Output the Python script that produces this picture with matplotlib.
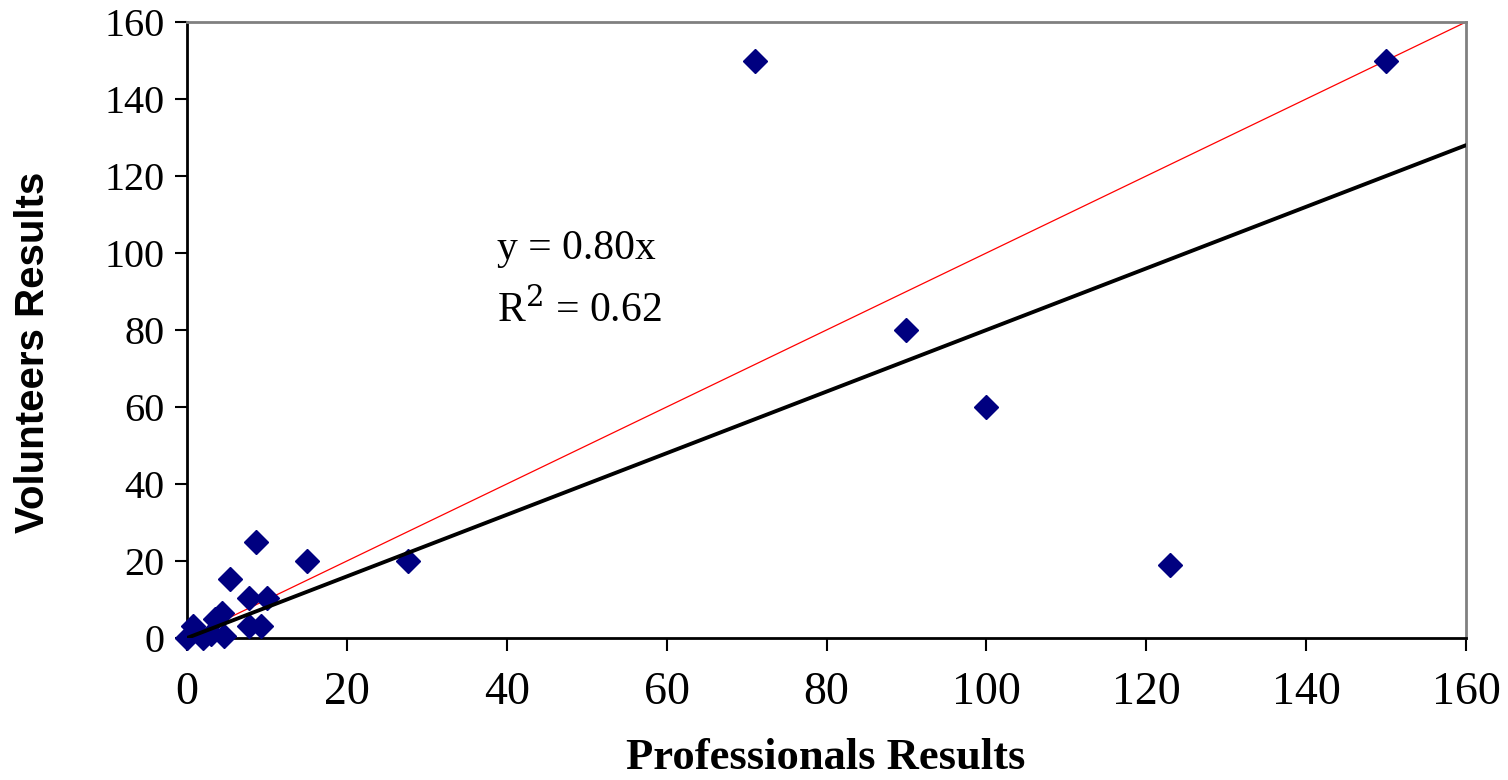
import matplotlib
matplotlib.use("Agg")
import matplotlib.pyplot as plt
import numpy as np

# Data
professionals = [0, 0.8, 2, 3, 3.5, 4.4, 4.6, 5.4, 7.7, 9.3, 7.8, 10, 8.6, 15, 27.6, 71, 90, 100, 123, 150]
volunteers    = [0, 3,   0, 1, 5,   6.4, 0.5, 15.2, 3,  3,   10.3, 10.3, 25, 20, 20, 150, 80, 60, 19, 150]
slope = 0.80
r2 = 0.62
x_ticks = [0, 20, 40, 60, 80, 100, 120, 140, 160]
y_ticks = [0, 20, 40, 60, 80, 100, 120, 140, 160]

W, H = 1508, 780
fig = plt.figure(figsize=(W / 100, H / 100), dpi=100)
ax = fig.add_axes([187 / W, 1 - 638 / H, (1466 - 187) / W, (638 - 22) / H])

serif = "Liberation Serif"
sans = "Liberation Sans"

# identity (red) and fitted trendline (black)
line_x = np.array([0, 160])
ax.plot(line_x, line_x, color="#ff0000", lw=0.9, zorder=2)
ax.plot(professionals, volunteers, linestyle="none", marker="D", ms=12,
        mfc="#000080", mec="#000080", zorder=3, clip_on=False)
ax.plot(line_x, slope * line_x, color="black", lw=2.8, zorder=4,
        solid_capstyle="round")

ax.set_xlim(0, 160)
ax.set_ylim(0, 160)
ax.set_xticks(x_ticks)
ax.set_yticks(y_ticks)
ax.set_xticklabels([str(t) for t in x_ticks], fontsize=33, family=serif)
ax.set_yticklabels([str(t) for t in y_ticks], fontsize=29, family=serif)
ax.tick_params(axis="x", direction="out", length=9, width=1.5, pad=15)
ax.tick_params(axis="y", direction="out", length=9, width=1.5, pad=7)

for s in ["left", "bottom"]:
    ax.spines[s].set_color("black")
    ax.spines[s].set_linewidth(2)
for s in ["top", "right"]:
    ax.spines[s].set_color("#808080")
    ax.spines[s].set_linewidth(2)

ax.text(38.8, 101, "y = 0.80x", fontsize=30, family=serif, ha="left", va="center")
ax.text(38.8, 85.2, r"R$^{2}$ = 0.62", fontsize=30, family=serif, ha="left", va="center",
        math_fontfamily="dejavuserif")

fig.text(826 / W, 1 - 758 / H, "Professionals Results", fontsize=32, family=serif,
         fontweight="bold", ha="center", va="center")
fig.text(33 / W, 1 - 352 / H, "Volunteers Results", fontsize=29, family=sans,
         fontweight="bold", ha="center", va="center", rotation=90)

fig.savefig("out.png", dpi=100)
